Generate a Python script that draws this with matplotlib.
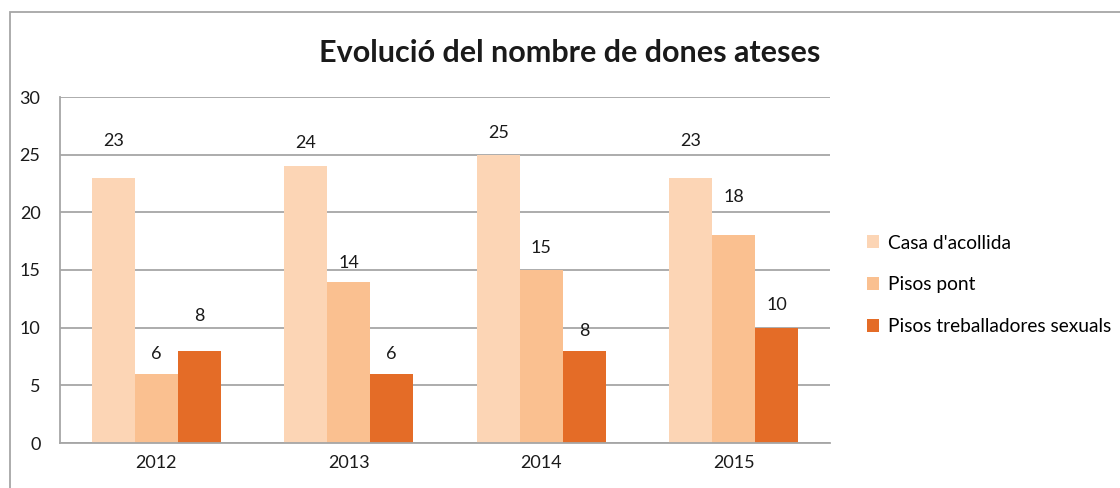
import matplotlib
matplotlib.use("Agg")
import matplotlib.pyplot as plt
import numpy as np
from matplotlib.patches import Rectangle, Patch

years = ["2012", "2013", "2014", "2015"]
series_names = ["Casa d'acollida", "Pisos pont", "Pisos treballadores sexuals"]
casa = [23, 24, 25, 23]
pont = [6, 14, 15, 18]
treb = [8, 6, 8, 10]
yticks = [0, 5, 10, 15, 20, 25, 30]
title = "Evolució del nombre de dones ateses"

colors = ["#FCD5B5", "#FAC090", "#E46C27"]
# label offsets (pixels above bar top) per series, per year
label_off = [[37, 23, 22, 37], [20, 19, 22, 38], [35, 20, 20, 23]]

plt.rcParams['font.family'] = ['Lato', 'DejaVu Sans']

fig = plt.figure(figsize=(11.2, 4.88), dpi=100)
ax = fig.add_axes([60/1120, 45/488, 770/1120, 346/488])

x = np.arange(len(years))
w = 0.223
for i, (vals, c) in enumerate(zip([casa, pont, treb], colors)):
    xs = x + (i - 1) * w
    ax.bar(xs, vals, width=w, color=c, zorder=2, label=series_names[i])
    for xi, v, off in zip(xs, vals, label_off[i]):
        ax.annotate(str(v), (xi, v), xytext=(0, off * 0.72), textcoords="offset points",
                    ha="center", va="center", fontsize=13, color="#1a1a1a")

ax.set_xlim(-0.5, 3.5)
ax.set_ylim(0, 30)
ax.set_yticks(yticks)
ax.set_xticks(x)
ax.set_xticklabels(years)
ax.tick_params(axis='both', length=0, labelsize=13, colors="#1a1a1a")
ax.tick_params(axis='y', pad=14)
ax.tick_params(axis='x', pad=9)
ax.yaxis.grid(True, color="#A6A6A6", linewidth=1.3, zorder=0)
ax.set_axisbelow(True)
for s in ["top", "right"]:
    ax.spines[s].set_visible(False)
for s in ["left", "bottom"]:
    ax.spines[s].set_color("#A6A6A6")
    ax.spines[s].set_linewidth(1.3)

fig.text(570/1120, 1 - 53/488, title, ha="center", va="center", fontsize=22,
         fontweight="bold", color="#1a1a1a")

handles = [Patch(facecolor=c, edgecolor="none") for c in colors]
fig.legend(handles, series_names, loc="center left", bbox_to_anchor=(867/1120, 1 - 285/488),
           frameon=False, fontsize=13.8, handlelength=0.65, handleheight=0.65,
           handletextpad=0.45, labelspacing=1.3, borderaxespad=0, borderpad=0)

fig.patches.append(Rectangle((10/1120, -0.1), 1.2, 1.1 - 12/488, transform=fig.transFigure,
                             fill=False, edgecolor="#A6A6A6", linewidth=1.3))

fig.savefig("out.png", dpi=100)
